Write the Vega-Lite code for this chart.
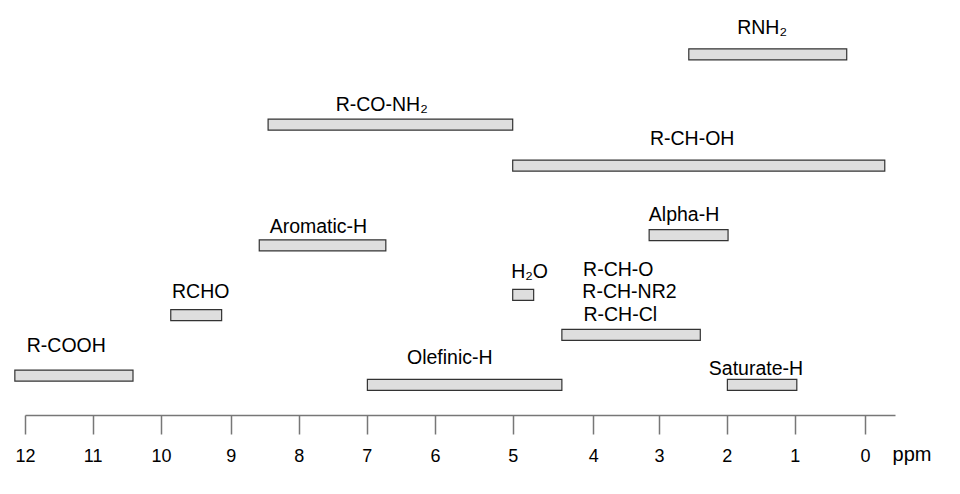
{
  "$schema": "https://vega.github.io/schema/vega-lite/v6.json",
  "width": 960,
  "height": 415,
  "autosize": "none",
  "padding": {"left": 0, "top": 0, "right": 0, "bottom": 79},
  "background": "white",
  "config": {"view": {"stroke": null}},
  "datasets": {
    "bars": [
      {"group": "RNH2", "start": 2.56, "end": 0.26, "level": 8.783},
      {"group": "R-CO-NH2", "start": 8.45, "end": 5.0, "level": 7.048},
      {"group": "R-CH-OH", "start": 5.0, "end": -0.29, "level": 6.036},
      {"group": "Alpha-H", "start": 3.15, "end": 1.98, "level": 4.32},
      {"group": "Aromatic-H", "start": 8.58, "end": 6.72, "level": 4.067},
      {"group": "H2O", "start": 5.0, "end": 4.74, "level": 2.843},
      {"group": "RCHO", "start": 9.86, "end": 9.13, "level": 2.342},
      {"group": "R-CH-X", "start": 4.39, "end": 2.39, "level": 1.855},
      {"group": "R-COOH", "start": 12.15, "end": 10.41, "level": 0.851},
      {"group": "Olefinic-H", "start": 6.99, "end": 4.39, "level": 0.622},
      {"group": "Saturate-H", "start": 1.99, "end": 0.97, "level": 0.622}
    ],
    "labels": [
      {"label": "RNH₂", "ppm": 1.48, "level": 9.277},
      {"label": "R-CO-NH₂", "ppm": 6.78, "level": 7.373},
      {"label": "R-CH-OH", "ppm": 2.51, "level": 6.547},
      {"label": "Alpha-H", "ppm": 2.63, "level": 4.658},
      {"label": "Aromatic-H", "ppm": 7.71, "level": 4.378},
      {"label": "H₂O", "ppm": 4.79, "level": 3.253},
      {"label": "R-CH-O", "ppm": 3.62, "level": 3.318},
      {"label": "R-CH-NR2", "ppm": 3.45, "level": 2.759},
      {"label": "R-CH-Cl", "ppm": 3.59, "level": 2.193},
      {"label": "RCHO", "ppm": 9.43, "level": 2.754},
      {"label": "R-COOH", "ppm": 11.39, "level": 1.422},
      {"label": "Olefinic-H", "ppm": 5.81, "level": 1.125},
      {"label": "Saturate-H", "ppm": 1.57, "level": 0.86}
    ]
  },
  "layer": [
    {
      "data": {"name": "bars"},
      "mark": {"type": "bar", "height": 11, "fill": "#dedede", "stroke": "#333333", "strokeWidth": 1.2},
      "encoding": {
        "x": {
          "field": "start",
          "type": "quantitative",
          "scale": {
            "domain": [12, 11, 10, 9, 8, 7, 6, 5, 4, 3, 2, 1, 0, -0.44],
            "range": [25, 92.7, 161, 230.7, 298.7, 366.7, 435, 512.7, 593.3, 659, 726.7, 794.7, 865, 895],
            "nice": false,
            "zero": false
          },
          "axis": {
            "values": [12, 11, 10, 9, 8, 7, 6, 5, 4, 3, 2, 1, 0],
            "format": "d",
            "grid": false,
            "tickSize": 19,
            "tickWidth": 1.5,
            "tickColor": "#777777",
            "domainColor": "#777777",
            "domainWidth": 1.5,
            "labelFont": "Liberation Sans",
            "labelFontSize": 18,
            "labelColor": "#000000",
            "labelBaseline": "alphabetic",
            "labelPadding": 27,
            "labelFlush": false,
            "labelOverlap": false,
            "title": "ppm",
            "titleFont": "Liberation Sans",
            "titleFontSize": 20,
            "titleFontWeight": "normal",
            "titleColor": "#000000",
            "titleAlign": "center",
            "titleBaseline": "alphabetic",
            "titleAngle": 0,
            "titleX": 911.5,
            "titleY": 45
          }
        },
        "x2": {"field": "end"},
        "y": {"field": "level", "type": "quantitative", "scale": {"domain": [0, 10], "nice": false, "zero": false}, "axis": null}
      }
    },
    {
      "data": {"name": "labels"},
      "mark": {"type": "text", "font": "Liberation Sans", "fontSize": 19.5, "align": "center", "baseline": "alphabetic", "color": "#000000"},
      "encoding": {
        "x": {"field": "ppm", "type": "quantitative"},
        "y": {"field": "level", "type": "quantitative"},
        "text": {"field": "label"}
      }
    }
  ]
}
